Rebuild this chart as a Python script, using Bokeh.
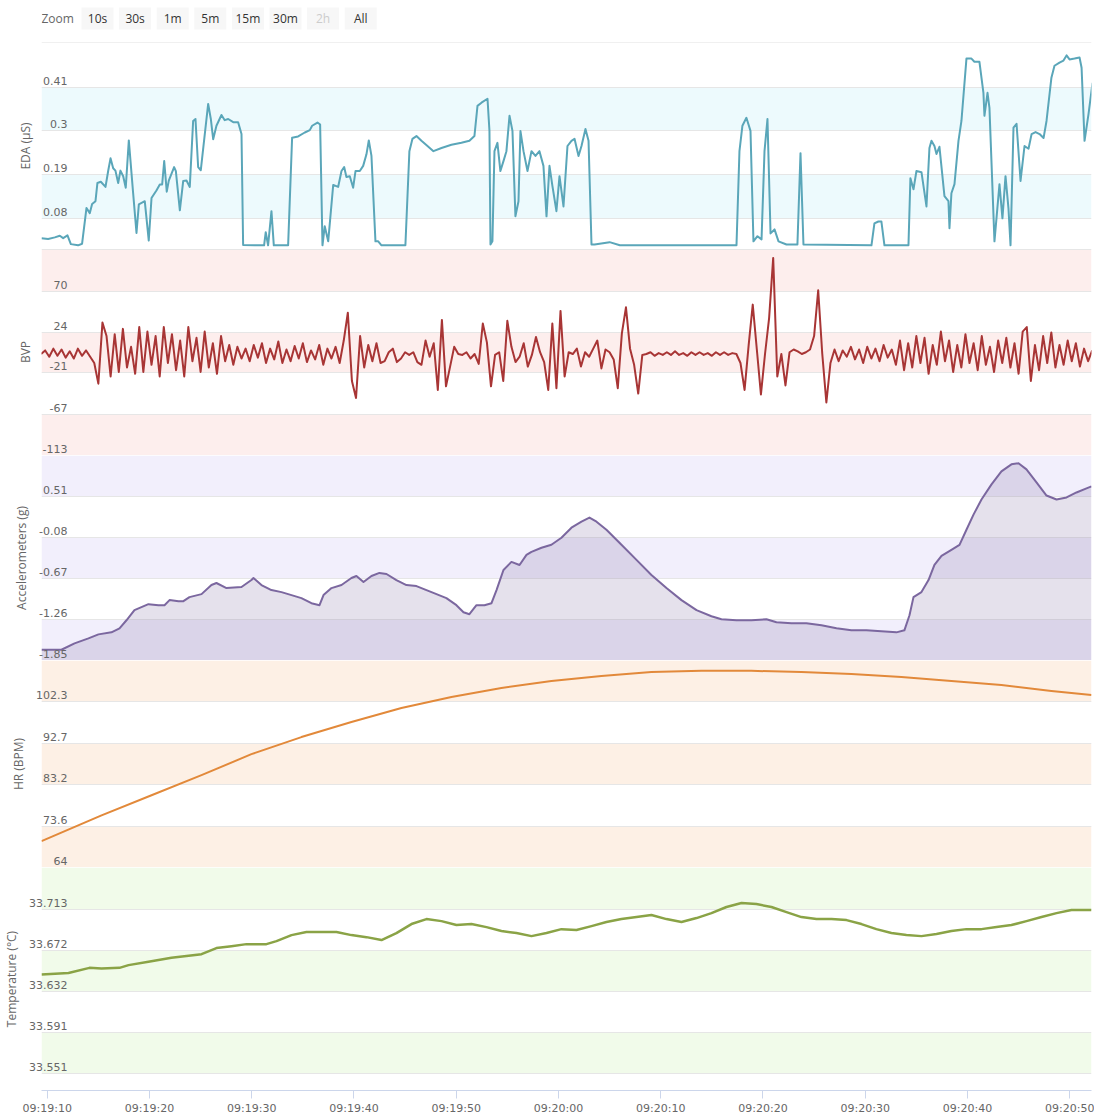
from datetime import datetime
import numpy as np
from bokeh.plotting import figure
from bokeh.models import (Range1d, BoxAnnotation, FixedTicker, LinearAxis,
                          DatetimeTickFormatter, Grid)
from bokeh.layouts import column
from bokeh.embed import file_html
from bokeh.resources import INLINE
from bokeh.core.properties import value

# ---------------- data (time in seconds after 09:19:10) ----------------
BASE = datetime(2017, 1, 1, 9, 19, 10)
VIEW_START_S = -0.56
VIEW_END_S = 102.13

X_TICK_LABELS = ["09:19:10", "09:19:20", "09:19:30", "09:19:40", "09:19:50", "09:20:00",
                 "09:20:10", "09:20:20", "09:20:30", "09:20:40", "09:20:50"]

EDA_T = [-0.56, 0.09, 0.74, 1.23, 1.56, 1.98, 2.31, 3.02, 3.41, 3.84, 4.16, 4.39, 4.72, 4.91, 5.24,
         5.70, 5.96, 6.19, 6.45, 6.67, 6.94, 7.16, 7.43, 7.68, 7.98, 8.40, 8.73, 8.96, 9.54, 9.93,
         10.20, 10.68, 11.01, 11.24, 11.44, 11.69, 11.89, 12.41, 12.58, 12.97, 13.30, 13.62, 13.94,
         14.27, 14.50, 14.76, 15.02, 15.41, 15.74, 16.00, 16.23, 16.55, 17.04, 17.36, 17.70, 18.19,
         18.67, 19.00, 19.16, 20.30, 21.21, 21.37, 21.60, 21.93, 22.16, 23.56, 23.95, 24.54, 25.19,
         25.68, 25.91, 26.43, 26.69, 26.92, 27.14, 27.48, 27.97, 28.45, 28.78, 29.04, 29.26, 29.59,
         29.92, 30.15, 30.57, 30.90, 31.22, 31.45, 31.71, 32.10, 32.37, 32.69, 34.64, 35.03, 35.42,
         35.72, 36.11, 36.60, 37.19, 37.77, 38.56, 39.53, 40.51, 41.29, 41.78, 42.08, 42.47, 43.06,
         43.25, 43.35, 43.54, 43.74, 44.03, 44.32, 44.62, 44.91, 45.21, 45.50, 45.79, 46.09, 46.28,
         46.58, 46.97, 47.36, 47.75, 48.14, 48.53, 48.83, 49.12, 49.41, 49.80, 50.10, 50.49, 50.88,
         51.27, 51.57, 51.96, 52.25, 52.64, 52.94, 53.23, 53.53, 55.00, 56.00, 67.41, 67.70, 67.99,
         68.38, 68.78, 69.07, 69.46, 69.86, 70.15, 70.44, 70.74, 71.13, 71.52, 72.30, 73.37, 73.67,
         73.96, 80.61, 80.90, 81.29, 81.58, 81.88, 84.23, 84.42, 84.72, 85.01, 85.50, 85.99, 86.28,
         86.48, 86.77, 86.97, 87.26, 87.75, 88.14, 88.24, 88.43, 88.73, 89.12, 89.41, 89.90, 90.39,
         90.68, 91.17, 91.56, 91.66, 91.96, 92.15, 92.64, 93.13, 93.42, 93.72, 94.01, 94.21, 94.50,
         94.80, 95.19, 95.58, 95.97, 96.27, 96.66, 97.05, 97.44, 97.73, 98.21, 98.51, 99.00, 99.39,
         99.69, 99.98, 100.47, 100.96, 101.16, 101.45, 101.84, 102.23]
EDA_V = [0.030, 0.028, 0.032, 0.036, 0.030, 0.037, 0.015, 0.012, 0.016, 0.106, 0.093, 0.116, 0.123,
         0.169, 0.172, 0.159, 0.199, 0.231, 0.206, 0.200, 0.169, 0.200, 0.186, 0.157, 0.276, 0.144,
         0.043, 0.115, 0.123, 0.024, 0.131, 0.150, 0.165, 0.165, 0.224, 0.147, 0.175, 0.209, 0.199,
         0.100, 0.174, 0.175, 0.159, 0.325, 0.330, 0.209, 0.201, 0.292, 0.368, 0.330, 0.279, 0.313,
         0.340, 0.327, 0.330, 0.322, 0.322, 0.292, 0.013, 0.012, 0.012, 0.045, 0.012, 0.098, 0.012,
         0.012, 0.283, 0.286, 0.296, 0.302, 0.313, 0.321, 0.316, 0.012, 0.060, 0.022, 0.164, 0.159,
         0.199, 0.209, 0.184, 0.186, 0.157, 0.199, 0.199, 0.212, 0.241, 0.276, 0.237, 0.022, 0.022,
         0.012, 0.012, 0.012, 0.249, 0.280, 0.287, 0.275, 0.262, 0.249, 0.257, 0.265, 0.270, 0.275,
         0.287, 0.363, 0.371, 0.381, 0.300, 0.014, 0.022, 0.249, 0.270, 0.199, 0.224, 0.249, 0.338,
         0.300, 0.085, 0.123, 0.300, 0.249, 0.199, 0.249, 0.237, 0.249, 0.212, 0.085, 0.212, 0.161,
         0.098, 0.186, 0.110, 0.262, 0.275, 0.280, 0.237, 0.262, 0.305, 0.275, 0.014, 0.014, 0.020,
         0.012, 0.012, 0.249, 0.313, 0.333, 0.300, 0.022, 0.035, 0.027, 0.249, 0.330, 0.042, 0.052,
         0.022, 0.014, 0.014, 0.244, 0.014, 0.012, 0.067, 0.072, 0.072, 0.012, 0.012, 0.181, 0.153,
         0.199, 0.196, 0.110, 0.257, 0.275, 0.262, 0.242, 0.260, 0.136, 0.123, 0.055, 0.143, 0.166,
         0.275, 0.325, 0.482, 0.482, 0.474, 0.474, 0.396, 0.338, 0.396, 0.358, 0.022, 0.166, 0.080,
         0.186, 0.105, 0.012, 0.308, 0.318, 0.174, 0.262, 0.255, 0.292, 0.297, 0.292, 0.282, 0.325,
         0.434, 0.464, 0.472, 0.477, 0.490, 0.480, 0.482, 0.485, 0.459, 0.275, 0.343, 0.421]

BVP_T0 = -0.6      # first sample time (s)
BVP_DT = 0.4       # sample spacing (s)
BVP_V = [0, 4, -3, 6, -2, 5, -4, 3, -5, 6, -2, 4, -3,
         -10, -33, 35, 20, -25, 22, -20, 28, -15, 8, -22, 30, -20, 25, -12, 20, -25, 30, -10, 22,
         -18, 15, -25, 30, -8, 18, -20, 25, -15, 12, -22, 20, -8, 10, -12, 8, -5, 6,
         -8, 10, -4, 12, -10, 6, -6, 14, -10, 5, -8, 9, -5, 12, -9, 4, -6, 10, -12, 6, -5, 8, -10,
         15, 46, -30, -49, 20, -15, 10, -8, 12, -10,
         -8, 2, 6, -9, -5, 2, -1, 2, -9, -12, 15, -3, 12, -40, 38, -36, -14, 8, 0, -1, 2, -5, 0,
         -11, 34, 13, -36, -1, 2, -30, 37, 8, -9, -3, 12, -14, -1, 19, 2, -9, -40, 34, -38, 48,
         -25, 2, 0, 6, -14, 2, -3, 6, 15, -16, 5, 2, -6, -38, 23, 52, 6, -12, -44, -1, 0,
         2, -2, 1, -1, 2, -1, 3, -1, 1, -2, 2, -1, 2, -1, 1, -2, 2, -1, 2, -1, 1, 0, -10,
         -40, 10, 55, 5, -45, 0, 40, 107, -25, 0, -35, 2, 5, 3, 0, 2, 5, 20, 71, 0, -54, -10,
         5, -8, 4, -3, 8, -6, 5, -10, 8, -5, 6, -8, 10, -4, 5, -12, 15,
         -18, 12, -15, 20, -10, 18, -22, 10, -12, 25, -8, 15, -20, 10, -15, 22, -10, 12, -18, 20,
         -12, 8, -20, 15, -10, 18, -15, 12, -22, 25, 30, -30, 10, -18, 20, -10, 24, -15, 10, -12,
         15, -8, 12, -14, 6, -8, 4]

ACC_T = [-0.56, 1.39, 2.67, 4.03, 5.01, 6.28, 7.07, 7.75, 8.53, 9.90, 10.88, 11.47, 11.96, 12.84,
         13.32, 13.91, 15.09, 16.06, 16.55, 17.53, 19.00, 19.97, 20.17, 20.95, 21.93, 22.91, 23.89,
         24.86, 25.84, 26.63, 27.02, 27.80, 28.78, 29.75, 30.24, 30.93, 31.71, 32.49, 33.18, 34.15,
         35.13, 36.11, 37.09, 38.07, 39.04, 40.02, 40.71, 41.29, 41.98, 42.76, 43.45, 43.94, 44.62,
         45.40, 46.19, 46.87, 47.36, 48.34, 49.31, 50.29, 51.27, 52.25, 53.03, 53.72, 54.69, 56.16,
         57.63, 59.09, 60.56, 62.03, 63.50, 64.96, 65.94, 67.41, 68.87, 70.34, 71.32, 72.79, 74.25,
         75.72, 77.19, 78.65, 80.12, 81.58, 83.05, 83.83, 84.33, 84.72, 85.50, 86.19, 86.77, 87.46,
         88.43, 89.22, 89.90, 90.59, 91.37, 92.35, 93.32, 94.30, 94.99, 95.77, 96.75, 97.73, 98.71,
         99.69, 100.66, 101.64, 102.13]
ACC_V = [-1.695, -1.695, -1.604, -1.532, -1.474, -1.445, -1.387, -1.271, -1.126, -1.039, -1.054,
         -1.054, -0.981, -0.996, -0.996, -0.938, -0.895, -0.764, -0.735, -0.808, -0.793, -0.692,
         -0.663, -0.764, -0.837, -0.866, -0.909, -0.952, -1.025, -1.054, -0.909, -0.808, -0.764,
         -0.663, -0.634, -0.721, -0.634, -0.590, -0.605, -0.692, -0.764, -0.779, -0.837, -0.895,
         -0.952, -1.054, -1.155, -1.184, -1.054, -1.054, -1.025, -0.837, -0.547, -0.431, -0.475,
         -0.330, -0.286, -0.228, -0.185, -0.084, 0.061, 0.148, 0.206, 0.148, 0.032, -0.185, -0.402,
         -0.619, -0.808, -0.981, -1.126, -1.213, -1.257, -1.271, -1.271, -1.257, -1.300, -1.314,
         -1.314, -1.343, -1.387, -1.416, -1.416, -1.430, -1.445, -1.416, -1.199, -0.938, -0.866,
         -0.692, -0.475, -0.344, -0.257, -0.185, 0.032, 0.249, 0.467, 0.684, 0.872, 0.973, 0.988,
         0.901, 0.713, 0.524, 0.467, 0.496, 0.568, 0.626, 0.655]

HR_T = [-0.56, 5.31, 10.20, 15.09, 19.97, 24.86, 29.75, 34.64, 39.53, 44.42, 49.31, 54.20, 59.09,
        63.98, 68.87, 73.76, 78.65, 83.54, 88.43, 93.32, 98.21, 102.13]
HR_V = [70.11, 76.07, 80.71, 85.36, 90.23, 94.18, 97.66, 100.91, 103.46, 105.55, 107.17, 108.33,
        109.26, 109.50, 109.50, 109.26, 108.80, 108.10, 107.17, 106.25, 104.85, 103.92]

TEMP_T = [-0.56, 2.08, 4.13, 5.31, 7.07, 7.95, 9.90, 12.15, 15.09, 16.55, 18.02, 19.49, 21.44, 22.42,
          23.89, 25.35, 26.82, 28.29, 29.75, 31.22, 32.69, 34.15, 35.62, 37.09, 38.56, 40.02, 41.49,
          42.96, 44.42, 45.89, 47.36, 48.83, 50.29, 51.76, 53.23, 54.69, 56.16, 57.63, 59.09, 60.56,
          62.03, 63.50, 64.96, 66.43, 67.90, 69.36, 70.83, 72.30, 73.76, 75.23, 76.70, 78.17, 79.63,
          81.09, 82.56, 84.03, 85.50, 86.97, 88.43, 89.90, 91.37, 92.84, 94.30, 95.77, 97.24, 98.71,
          100.17, 102.13]
TEMP_V = [33.6485, 33.6500, 33.6550, 33.6544, 33.6550, 33.6577, 33.6610, 33.6649, 33.6685, 33.6745,
          33.6764, 33.6784, 33.6784, 33.6814, 33.6873, 33.6903, 33.6903, 33.6903, 33.6873, 33.6853,
          33.6824, 33.6893, 33.6982, 33.7031, 33.7011, 33.6972, 33.6982, 33.6952, 33.6913, 33.6893,
          33.6863, 33.6893, 33.6932, 33.6923, 33.6962, 33.7002, 33.7031, 33.7051, 33.7071, 33.7031,
          33.7002, 33.7041, 33.7090, 33.7150, 33.7189, 33.7179, 33.7150, 33.7100, 33.7051, 33.7031,
          33.7031, 33.7021, 33.6982, 33.6932, 33.6893, 33.6873, 33.6863, 33.6883, 33.6913, 33.6932,
          33.6932, 33.6952, 33.6972, 33.7011, 33.7051, 33.7090, 33.7120, 33.7120]

# axis ticks (bottom-up, last one is the unlabeled pane top) and labels
EDA_TICKS = [0.08, 0.19, 0.30, 0.41, 0.52]
EDA_LABELS = ["0.08", "0.19", "0.3", "0.41"]
EDA_RANGE = (0.004, 0.52)
BVP_TICKS = [-113, -67, -21, 24, 70, 116]
BVP_LABELS = ["-113", "-67", "-21", "24", "70"]
BVP_RANGE = (-113, 117.5)
ACC_TICKS = [-1.85, -1.26, -0.67, -0.08, 0.51, 1.10]
ACC_LABELS = ["-1.85", "-1.26", "-0.67", "-0.08", "0.51"]
ACC_RANGE = (-1.85, 1.10)
HR_TICKS = [64, 73.6, 83.2, 92.7, 102.3, 111.9]
HR_LABELS = ["64", "73.6", "83.2", "92.7", "102.3"]
HR_RANGE = (64, 111.9)
TEMP_TICKS = [33.551, 33.591, 33.632, 33.672, 33.713, 33.754]
TEMP_LABELS = ["33.551", "33.591", "33.632", "33.672", "33.713"]
TEMP_RANGE = (33.534, 33.754)

ZOOM_BUTTONS = ["10s", "30s", "1m", "5m", "15m", "30m", "2h", "All"]
ZOOM_DISABLED = ["2h"]

# ---------------- helpers ----------------
EPOCH = datetime(1970, 1, 1)
BASE_MS = (BASE - EPOCH).total_seconds() * 1000.0


def to_ms(sec):
    return BASE_MS + np.asarray(sec, dtype=float) * 1000.0


def label_to_ms(lbl):
    h, m, s = [int(v) for v in lbl.split(":")]
    d = datetime(BASE.year, BASE.month, BASE.day, h, m, s)
    return (d - EPOCH).total_seconds() * 1000.0


X_START = float(to_ms(VIEW_START_S))
X_END = float(to_ms(VIEW_END_S))
xr = Range1d(X_START, X_END)

FRAME_W = 1050
LEFT = 40
RIGHT = 4
TICK_FONT = "DejaVu Sans"
TITLE_FONT = "Open Sans"
LABEL_COLOR = "#666666"
GRID_COLOR = "#e6e6e6"
LABEL_LIFT_PX = 6.5


def make_pane(frame_h, rng, ticks, labels, band_color, title, with_xaxis=False):
    p = figure(frame_width=FRAME_W, frame_height=frame_h, x_range=xr,
               y_range=Range1d(*rng), x_axis_type="datetime",
               x_axis_location="below" if with_xaxis else None, y_axis_location=None,
               output_backend="svg", toolbar_location=None,
               min_border_left=LEFT, min_border_right=RIGHT, min_border_top=0, min_border_bottom=0)
    p.outline_line_color = None
    p.background_fill_color = "white"
    p.border_fill_color = "white"
    p.grid.visible = False
    # alternate bands starting from the lowest tick
    for i in range(0, len(ticks) - 1, 2):
        p.add_layout(BoxAnnotation(bottom=ticks[i], top=ticks[i + 1], fill_color=band_color,
                                   fill_alpha=1.0, line_color=None, level="image"))
    p.add_layout(Grid(dimension=1, ticker=FixedTicker(ticks=ticks), grid_line_color=GRID_COLOR,
                      grid_line_width=1))
    # tick labels sit just above their grid line, inside the plot area (Highstock style)
    d = LABEL_LIFT_PX * (rng[1] - rng[0]) / frame_h
    p.extra_y_ranges = {"lbl": Range1d(rng[0] - d, rng[1] - d)}
    lab_ticks = ticks[:len(labels)]
    ax = LinearAxis(y_range_name="lbl", ticker=FixedTicker(ticks=lab_ticks),
                    major_label_overrides={t: l for t, l in zip(lab_ticks, labels)},
                    axis_line_color=None, major_tick_line_color=None, minor_tick_line_color=None,
                    major_tick_out=0, major_tick_in=0, major_label_standoff=-26,
                    major_label_text_font=TICK_FONT, major_label_text_font_size="11px",
                    major_label_text_color=LABEL_COLOR,
                    axis_label=title, axis_label_standoff=6,
                    axis_label_text_font=TITLE_FONT, axis_label_text_font_size="12px",
                    axis_label_text_font_style="normal", axis_label_text_color=LABEL_COLOR)
    p.add_layout(ax, "left")
    if with_xaxis:
        xa = p.xaxis[0]
        xa.ticker = FixedTicker(ticks=[label_to_ms(l) for l in X_TICK_LABELS])
        fmt = "%H:%M:%S"
        xa.formatter = DatetimeTickFormatter(milliseconds=fmt, seconds=fmt, minsec=fmt,
                                             minutes=fmt, hourmin=fmt, hours=fmt)
        xa.axis_line_color = "#ccd6eb"
        xa.major_tick_line_color = "#ccd6eb"
        xa.minor_tick_line_color = None
        xa.major_tick_out = 8
        xa.major_tick_in = 0
        xa.major_label_standoff = 3
        xa.major_label_text_font = TICK_FONT
        xa.major_label_text_font_size = "11px"
        xa.major_label_text_color = LABEL_COLOR
    return p


# ---------------- header (range selector) ----------------
HDR_H = 43
hdr = figure(frame_width=FRAME_W, frame_height=HDR_H, x_range=Range1d(LEFT, LEFT + FRAME_W),
             y_range=Range1d(HDR_H, 0), x_axis_location=None, y_axis_location=None,
             output_backend="svg", toolbar_location=None,
             min_border_left=LEFT, min_border_right=RIGHT, min_border_top=0, min_border_bottom=0)
hdr.outline_line_color = None
hdr.grid.visible = False
btn_x = [96 + 37.6 * i for i in range(len(ZOOM_BUTTONS))]
btn_colors = ["#cccccc" if b in ZOOM_DISABLED else "#333333" for b in ZOOM_BUTTONS]
hdr.rect(x=btn_x, y=18, width=32, height=22, fill_color="#f7f7f7", line_color=None)
hdr.text(x=btn_x, y=[18] * len(btn_x), text=ZOOM_BUTTONS, text_align="center",
         text_baseline="middle", text_font=value("Open Sans"), text_font_size="12px",
         text_color=btn_colors)
hdr.text(x=[LEFT], y=[18], text=["Zoom"], text_align="left", text_baseline="middle",
         text_font=value("Open Sans"), text_font_size="12px", text_color=LABEL_COLOR)
# top border line of the first pane
hdr.segment(x0=[LEFT], y0=[HDR_H - 0.5], x1=[LEFT + FRAME_W], y1=[HDR_H - 0.5],
            line_color="#e0e0e0", line_width=1)

# ---------------- panes ----------------
EDA_COLOR = "#5aa6b9"
BVP_COLOR = "#a83535"
ACC_COLOR = "#7b679f"
HR_COLOR = "#e2893a"
TEMP_COLOR = "#8aa346"

p1 = make_pane(205, EDA_RANGE, EDA_TICKS, EDA_LABELS, "#edfafd", "EDA (µS)")
p1.line(to_ms(EDA_T), EDA_V, line_color=EDA_COLOR, line_width=2, line_join="round")

bvp_t = [BVP_T0 + BVP_DT * i for i in range(len(BVP_V))]
p2 = make_pane(207, BVP_RANGE, BVP_TICKS, BVP_LABELS, "#fdeeed", "BVP")
p2.line(to_ms(bvp_t), BVP_V, line_color=BVP_COLOR, line_width=2, line_join="round")

p3 = make_pane(205, ACC_RANGE, ACC_TICKS, ACC_LABELS, "#f2effc", "Accelerometers (g)")
p3.varea(x=to_ms(ACC_T), y1=[ACC_RANGE[0]] * len(ACC_T), y2=ACC_V, fill_color=ACC_COLOR,
         fill_alpha=0.2)
p3.line(to_ms(ACC_T), ACC_V, line_color=ACC_COLOR, line_width=2, line_join="round")

p4 = make_pane(207, HR_RANGE, HR_TICKS, HR_LABELS, "#fdf0e5", "HR (BPM)")
p4.line(to_ms(HR_T), HR_V, line_color=HR_COLOR, line_width=2, line_join="round")

p5 = make_pane(223, TEMP_RANGE, TEMP_TICKS, TEMP_LABELS, "#f1fbea", "Temperature (°C)",
               with_xaxis=True)
p5.line(to_ms(TEMP_T), TEMP_V, line_color=TEMP_COLOR, line_width=2.5, line_join="round")

layout = column(hdr, p1, p2, p3, p4, p5, spacing=0)

open("out.html", "w").write(file_html(layout, INLINE))
